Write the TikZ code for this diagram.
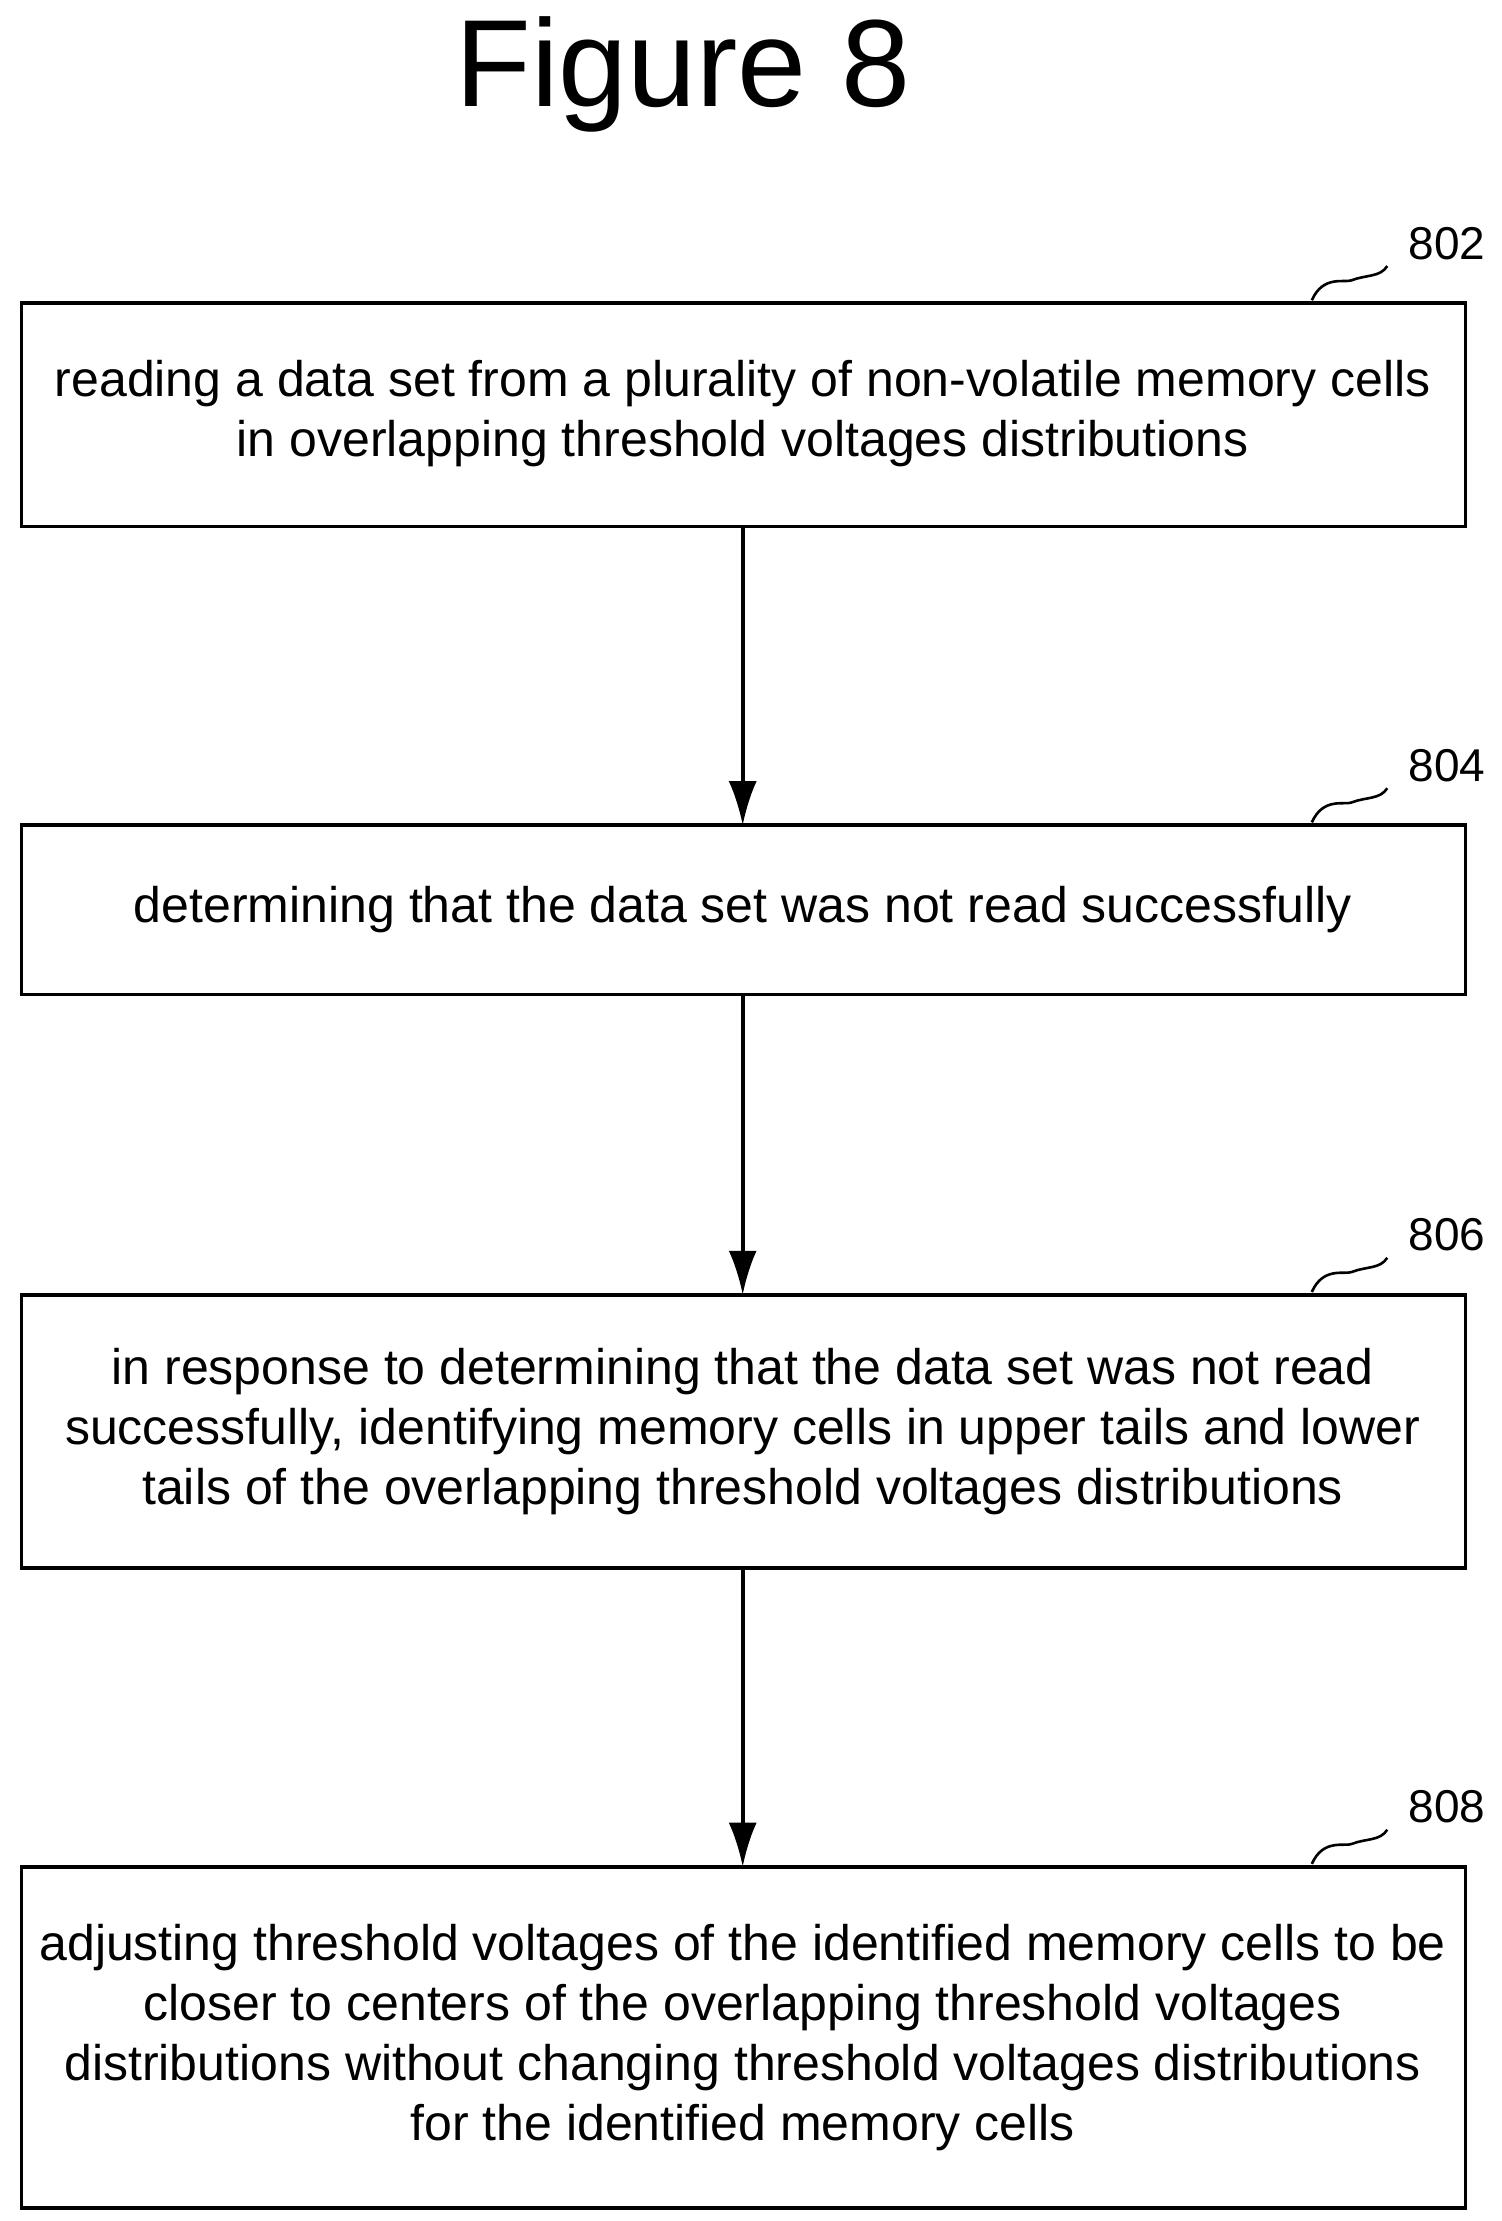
\documentclass[tikz,border=0pt]{standalone}
\usepackage{fontspec}
\setmainfont{Liberation Sans}
\usetikzlibrary{arrows.meta}
\begin{document}
\begin{tikzpicture}[x=0.7113pt,y=-0.7113pt,
  box/.style={line width=1.8pt,inner sep=0pt,align=center,font=\fontsize{25}{30}\selectfont},
  lab/.style={font=\fontsize{23}{28}\selectfont,anchor=center},
  arr/.style={-{Latex[length=22pt,width=14pt]},line width=1.8pt},
  sq/.style={line width=1.3pt}]
\useasboundingbox (0,0) rectangle (1055,1561);
\node[font=\fontsize{62}{70}\selectfont] (title) at (480,52) {Figure 8};
\draw[line width=1.8pt] (15,213) rectangle (1030,370);
\node[box] (b1) at (522,291) {reading a data set from a plurality of non-volatile memory cells\\in overlapping threshold voltages distributions};
\draw[line width=1.8pt] (15,580) rectangle (1030,699);
\node[box] (b2) at (522,639) {determining that the data set was not read successfully};
\draw[line width=1.8pt] (15,910) rectangle (1030,1102);
\node[box] (b3) at (522,1006) {in response to determining that the data set was not read\\successfully, identifying memory cells in upper tails and lower\\tails of the overlapping threshold voltages distributions};
\draw[line width=1.8pt] (15,1312) rectangle (1030,1552);
\node[box] (b4) at (522,1432) {adjusting threshold voltages of the identified memory cells to be\\closer to centers of the overlapping threshold voltages\\distributions without changing threshold voltages distributions\\for the identified memory cells};
\coordinate (a1s) at (522,370); \coordinate (a1e) at (522,580);
\coordinate (a2s) at (522,699); \coordinate (a2e) at (522,910);
\coordinate (a3s) at (522,1102); \coordinate (a3e) at (522,1312);
\draw[arr] (a1s) -- (a1e);
\draw[arr] (a2s) -- (a2e);
\draw[arr] (a3s) -- (a3e);
\foreach \y/\t in {213/802,580/804,910/806,1312/808}{
  \node[lab] (l\t) at (1017,\y-42) {\t};
  \draw[sq] (922,\y-2) .. controls (930,\y-20) and (945,\y-14) .. (950,\y-16) .. controls (960,\y-20) and (970,\y-18) .. (975,\y-26);
}
\end{tikzpicture}
\end{document}
